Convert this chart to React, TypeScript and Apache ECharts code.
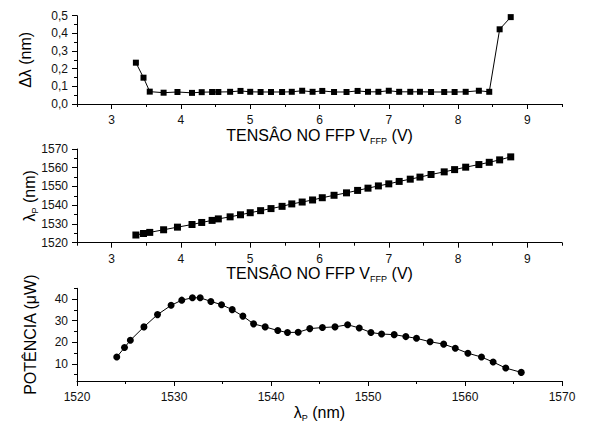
import React, { useEffect, useRef } from "react";
import * as echarts from "echarts";

const voltage = [3.35, 3.46, 3.55, 3.75, 3.95, 4.16, 4.3, 4.45, 4.54, 4.71, 4.86, 5.0, 5.15, 5.3, 5.46, 5.6, 5.75, 5.9, 6.04, 6.21, 6.39, 6.55, 6.7, 6.85, 7.0, 7.15, 7.31, 7.45, 7.61, 7.8, 7.95, 8.11, 8.3, 8.45, 8.6, 8.76];
const deltaLambda = [0.234, 0.149, 0.07, 0.064, 0.068, 0.063, 0.067, 0.068, 0.068, 0.069, 0.074, 0.069, 0.068, 0.068, 0.068, 0.069, 0.075, 0.069, 0.074, 0.068, 0.068, 0.074, 0.069, 0.069, 0.075, 0.069, 0.069, 0.069, 0.068, 0.068, 0.068, 0.069, 0.075, 0.069, 0.423, 0.492];
const lambdaP = [1524.1, 1524.9, 1525.5, 1526.9, 1528.3, 1529.7, 1530.8, 1531.9, 1532.7, 1533.8, 1534.9, 1536.0, 1537.1, 1538.2, 1539.4, 1540.7, 1541.7, 1542.8, 1544.0, 1545.3, 1546.6, 1547.9, 1549.1, 1550.3, 1551.4, 1552.7, 1553.9, 1555.0, 1556.4, 1557.8, 1559.0, 1560.3, 1561.7, 1562.9, 1564.2, 1565.8];
const power = [13.1, 17.5, 20.9, 27.1, 32.8, 37.1, 39.5, 40.6, 40.6, 38.9, 37.4, 35.1, 32.1, 28.5, 27.1, 25.4, 24.5, 24.6, 26.3, 26.8, 27.1, 28.1, 26.6, 24.5, 23.8, 23.5, 22.6, 21.8, 20.2, 19.1, 17.2, 14.9, 13.1, 10.8, 8.0, 6.0];

const voltMajor = [3, 4, 5, 6, 7, 8, 9];
const voltMinor = [2.5, 3.5, 4.5, 5.5, 6.5, 7.5, 8.5, 9.5];
const powerMajor = [10, 20, 30, 40];
const powerMinor = [5, 15, 25, 35, 45];

const FONT = "'Liberation Sans', Arial, sans-serif";
const INK = "#000";

const axisLine = { show: true, onZero: false, lineStyle: { color: INK, width: 1 } };
const labelStyle = { color: "#111", fontSize: 12, fontFamily: FONT };
const plain = (v: number) => String(v);
const subRich = { s: { fontSize: 9, fontFamily: FONT, color: INK, padding: [11, 0, 0, 0] } };
const nameStyle = (size: number) => ({ fontSize: size, fontFamily: FONT, color: INK, rich: subRich });

function voltAxis(gridIndex: number) {
  return [
    {
      type: "value", gridIndex, position: "bottom", min: 2.5, max: 9.5,
      axisLine, splitLine: { show: false },
      axisTick: { show: true, length: 5, customValues: voltMajor, lineStyle: { color: INK } },
      axisLabel: { ...labelStyle, margin: 10, customValues: voltMajor, formatter: plain },
      name: "TENSÂO NO FFP V{s|FFP} (V)", nameLocation: "middle", nameGap: 21, nameMoveOverlap: false,
      nameTextStyle: nameStyle(16),
    },
    {
      type: "value", gridIndex, position: "bottom", min: 2.5, max: 9.5,
      axisLine: { show: false }, splitLine: { show: false }, axisLabel: { show: false },
      axisTick: { show: true, length: 3, customValues: voltMinor, lineStyle: { color: INK } },
    },
  ];
}

export default function App() {
  const ref = useRef<HTMLDivElement>(null);
  useEffect(() => {
    if (!ref.current) return;
    const chart = echarts.init(ref.current, undefined, { renderer: "svg" });
    const option = {
      animation: false,
      backgroundColor: "#fff",
      grid: [
        { left: 77, width: 485, top: 15.7, height: 88.3 },
        { left: 77, width: 485, top: 149, height: 93.7 },
        { left: 77, width: 485, top: 288.3, height: 93.4 },
      ],
      xAxis: [
        ...voltAxis(0),
        ...voltAxis(1),
        {
          type: "value", gridIndex: 2, position: "bottom", min: 1520, max: 1570, interval: 10,
          axisLine, splitLine: { show: false },
          axisTick: { show: true, length: 5, lineStyle: { color: INK } },
          minorTick: { show: true, splitNumber: 2, length: 3, lineStyle: { color: INK } },
          axisLabel: { ...labelStyle, margin: 10, formatter: plain },
          name: "λ{s|P} (nm)", nameLocation: "middle", nameGap: 21, nameMoveOverlap: false,
          nameTextStyle: nameStyle(16),
        },
      ],
      yAxis: [
        {
          type: "value", gridIndex: 0, position: "left", min: 0, max: 0.5, interval: 0.1,
          axisLine, splitLine: { show: false },
          axisTick: { show: true, length: 5, lineStyle: { color: INK } },
          minorTick: { show: true, splitNumber: 2, length: 3, lineStyle: { color: INK } },
          axisLabel: { ...labelStyle, margin: 9, formatter: (v: number) => v.toFixed(1).replace(".", ",") },
          name: "Δλ (nm)", nameLocation: "middle", nameRotate: 90, nameGap: 44, nameMoveOverlap: false,
          nameTextStyle: nameStyle(16),
        },
        {
          type: "value", gridIndex: 1, position: "left", min: 1520, max: 1570, interval: 10,
          axisLine, splitLine: { show: false },
          axisTick: { show: true, length: 5, lineStyle: { color: INK } },
          minorTick: { show: true, splitNumber: 2, length: 3, lineStyle: { color: INK } },
          axisLabel: { ...labelStyle, margin: 9, formatter: plain },
          name: "λ{s|P} (nm)", nameLocation: "middle", nameRotate: 90, nameGap: 38, nameMoveOverlap: false,
          nameTextStyle: nameStyle(16),
        },
        {
          type: "value", gridIndex: 2, position: "left", min: 2, max: 45,
          axisLine, splitLine: { show: false },
          axisTick: { show: true, length: 5, customValues: powerMajor, lineStyle: { color: INK } },
          axisLabel: { ...labelStyle, margin: 9, customValues: powerMajor, formatter: plain },
          name: "POTÊNCIA (μW)", nameLocation: "middle", nameRotate: 90, nameGap: 39, nameMoveOverlap: false,
          nameTextStyle: nameStyle(16),
        },
        {
          type: "value", gridIndex: 2, position: "left", min: 2, max: 45,
          axisLine: { show: false }, splitLine: { show: false }, axisLabel: { show: false },
          axisTick: { show: true, length: 3, customValues: powerMinor, lineStyle: { color: INK } },
        },
      ],
      series: [
        {
          type: "line", xAxisIndex: 0, yAxisIndex: 0,
          data: voltage.map((v, i) => [v, deltaLambda[i]]),
          symbol: "rect", symbolSize: 6, lineStyle: { color: INK, width: 1 }, itemStyle: { color: INK },
        },
        {
          type: "line", xAxisIndex: 2, yAxisIndex: 1,
          data: voltage.map((v, i) => [v, lambdaP[i]]),
          symbol: "rect", symbolSize: 7, lineStyle: { color: INK, width: 1 }, itemStyle: { color: INK },
        },
        {
          type: "line", xAxisIndex: 4, yAxisIndex: 2,
          data: lambdaP.map((v, i) => [v, power[i]]),
          symbol: "circle", symbolSize: 7, lineStyle: { color: INK, width: 1 }, itemStyle: { color: INK },
        },
      ],
    };
    chart.setOption(option as any);
    return () => chart.dispose();
  }, []);
  return <div ref={ref} style={{ position: "fixed", left: 0, top: 0, width: 589, height: 423 }} />;
}
